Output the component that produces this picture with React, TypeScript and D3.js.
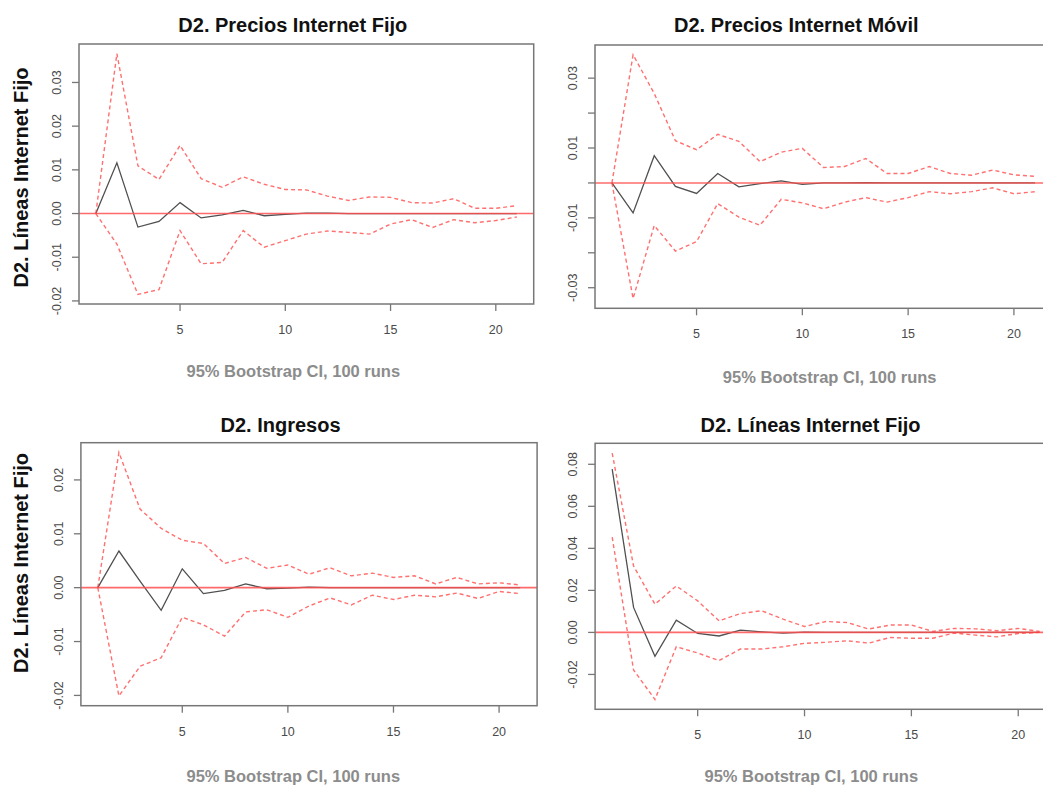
import React from "react";
import * as d3 from "d3";

// horizons 1..21
const steps = [1, 2, 3, 4, 5, 6, 7, 8, 9, 10, 11, 12, 13, 14, 15, 16, 17, 18, 19, 20, 21];

// D2. Precios Internet Fijo -> D2. Lineas Internet Fijo
const fijoIrf = [0, 0.0116, -0.0031, -0.0018, 0.0025, -0.001, -0.0003, 0.0007, -0.0005, -0.0002, 0.0001, 0.0001, 0, 0, 0, 0, 0, 0, 0, 0, 0];
const fijoUpper = [0, 0.0366, 0.0109, 0.0078, 0.0156, 0.008, 0.006, 0.0084, 0.0067, 0.0055, 0.0054, 0.004, 0.003, 0.0038, 0.0037, 0.0025, 0.0024, 0.0034, 0.0012, 0.0012, 0.0018];
const fijoLower = [0, -0.007, -0.0185, -0.0174, -0.0039, -0.0115, -0.0112, -0.0039, -0.0077, -0.0062, -0.0047, -0.004, -0.0043, -0.0047, -0.0024, -0.0014, -0.0032, -0.0014, -0.0021, -0.0016, -0.0008];

// D2. Precios Internet Movil
const movilIrf = [0, -0.0086, 0.0078, -0.001, -0.003, 0.0027, -0.0011, -0.0002, 0.0006, -0.0004, 0, 0, 0.0001, 0, 0, 0, 0, 0, 0, 0, 0];
const movilUpper = [0, 0.0367, 0.0256, 0.0121, 0.0095, 0.0139, 0.0119, 0.0061, 0.0088, 0.0099, 0.0044, 0.0047, 0.007, 0.0027, 0.0027, 0.0047, 0.0027, 0.0022, 0.0037, 0.0023, 0.0019];
const movilLower = [0, -0.0331, -0.0122, -0.0195, -0.0168, -0.0059, -0.0098, -0.0121, -0.0047, -0.0057, -0.0074, -0.0055, -0.0042, -0.0055, -0.0042, -0.0025, -0.0031, -0.0025, -0.0014, -0.0031, -0.0025];

// D2. Ingresos
const ingIrf = [0, 0.0068, 0.0012, -0.0042, 0.0035, -0.0011, -0.0005, 0.0007, -0.0002, -0.0001, 0.0001, 0, 0, 0, 0, 0, 0, 0, 0, 0, 0];
const ingUpper = [0, 0.0251, 0.0146, 0.011, 0.0088, 0.0082, 0.0045, 0.0056, 0.0036, 0.0042, 0.0025, 0.0037, 0.0022, 0.0027, 0.0019, 0.0022, 0.0007, 0.0019, 0.0007, 0.0009, 0.0005];
const ingLower = [0, -0.0201, -0.0146, -0.013, -0.0055, -0.0069, -0.009, -0.0045, -0.0041, -0.0055, -0.0034, -0.0019, -0.0032, -0.0014, -0.0022, -0.0014, -0.0017, -0.001, -0.002, -0.0007, -0.0011];

// D2. Lineas Internet Fijo (own shock)
const linIrf = [0.0777, 0.0119, -0.0114, 0.0058, -0.0005, -0.0017, 0.0011, 0.0003, -0.0003, 0.0001, 0, 0, 0, 0, 0, 0, 0, 0, 0, 0, 0];
const linUpper = [0.0853, 0.0316, 0.0134, 0.0221, 0.015, 0.0055, 0.009, 0.0103, 0.0063, 0.0028, 0.0052, 0.0047, 0.0016, 0.0035, 0.0035, 0.0005, 0.0019, 0.0017, 0.0008, 0.0019, 0.0005];
const linLower = [0.0453, -0.0179, -0.0319, -0.0068, -0.0098, -0.0134, -0.0079, -0.0079, -0.0068, -0.0052, -0.0047, -0.004, -0.0051, -0.0024, -0.0028, -0.0028, -0.0003, -0.0013, -0.0021, -0.0005, 0];

const xTicks = [5, 10, 15, 20];

const FONT = "'Liberation Sans', Arial, sans-serif";
const fmt = (v: number) => v.toFixed(2).replace("−", "-");

type PanelProps = {
  title: string;
  irf: number[];
  upper: number[];
  lower: number[];
  yTicks: number[];
  yLabels: number[];
  box: { l: number; t: number; r: number; b: number };
  titleX: number;
  titleY: number;
  subX: number;
  subY: number;
  yLabel?: { x: number; y: number };
};

function Panel(p: PanelProps) {
  const { box } = p;
  const x = d3.scaleLinear().domain([0.2, 21.8]).range([box.l, box.r]);
  const all = [...p.irf, ...p.upper, ...p.lower];
  const lo = d3.min(all) as number;
  const hi = d3.max(all) as number;
  const ext = (hi - lo) * 0.04;
  const y = d3.scaleLinear().domain([lo - ext, hi + ext]).range([box.b, box.t]);
  const line = d3
    .line<number>()
    .x((_, i) => x(steps[i]))
    .y((d) => y(d));
  const clipId = "clip" + Math.round(box.l) + "_" + Math.round(box.t);

  return (
    <g>
      <defs>
        <clipPath id={clipId}>
          <rect x={box.l} y={box.t} width={box.r - box.l} height={box.b - box.t} />
        </clipPath>
      </defs>
      <g clipPath={`url(#${clipId})`}>
        <path d={line(p.irf) || ""} fill="none" stroke="#505050" strokeWidth={1.3} />
        <line x1={box.l} x2={box.r} y1={y(0)} y2={y(0)} stroke="#ff5050" strokeOpacity={0.85} strokeWidth={1.6} />
        <path d={line(p.upper) || ""} fill="none" stroke="#ff4040" strokeOpacity={0.75} strokeWidth={1.4} strokeDasharray="4,3" />
        <path d={line(p.lower) || ""} fill="none" stroke="#ff4040" strokeOpacity={0.75} strokeWidth={1.4} strokeDasharray="4,3" />
      </g>
      <rect x={box.l} y={box.t} width={box.r - box.l} height={box.b - box.t} fill="none" stroke="#777" strokeWidth={1.5} />
      {p.yTicks.map((t) => (
        <g key={"y" + t}>
          <line x1={box.l - 7} x2={box.l} y1={y(t)} y2={y(t)} stroke="#777" strokeWidth={1.3} />
          {p.yLabels.includes(t) && (
            <text
              transform={`translate(${box.l - 18},${y(t)}) rotate(-90)`}
              textAnchor="middle"
              fontFamily={FONT}
              fontSize={12.5}
              fill="#4a4a4a"
            >
              {fmt(t)}
            </text>
          )}
        </g>
      ))}
      {xTicks.map((t) => (
        <g key={"x" + t}>
          <line x1={x(t)} x2={x(t)} y1={box.b} y2={box.b + 7} stroke="#777" strokeWidth={1.3} />
          <text x={x(t)} y={box.b + 30} textAnchor="middle" fontFamily={FONT} fontSize={12.5} fill="#4a4a4a">
            {t}
          </text>
        </g>
      ))}
      <text x={p.titleX} y={p.titleY} textAnchor="middle" fontFamily={FONT} fontSize={20} fontWeight="bold" fill="#111">
        {p.title}
      </text>
      <text x={p.subX} y={p.subY} textAnchor="middle" fontFamily={FONT} fontSize={16.5} fontWeight="bold" fill="#8c8c8c">
        95% Bootstrap CI, 100 runs
      </text>
      {p.yLabel && (
        <text
          transform={`translate(${p.yLabel.x},${p.yLabel.y}) rotate(-90)`}
          textAnchor="middle"
          fontFamily={FONT}
          fontSize={20}
          fontWeight="bold"
          fill="#111"
        >
          D2. Líneas Internet Fijo
        </text>
      )}
    </g>
  );
}

export default function App() {
  return (
    <svg width={1043} height={785} style={{ position: "absolute", left: 0, top: 0, background: "#fff" }}>
      <rect width={1043} height={785} fill="#fff" />
      <Panel
        title="D2. Precios Internet Fijo"
        irf={fijoIrf}
        upper={fijoUpper}
        lower={fijoLower}
        yTicks={[-0.02, -0.01, 0, 0.01, 0.02, 0.03]}
        yLabels={[-0.02, -0.01, 0, 0.01, 0.02, 0.03]}
        box={{ l: 79, t: 44, r: 533.7, b: 304 }}
        titleX={292.8}
        titleY={31.7}
        subX={293.3}
        subY={376.7}
        yLabel={{ x: 28, y: 177.5 }}
      />
      <Panel
        title="D2. Precios Internet Móvil"
        irf={movilIrf}
        upper={movilUpper}
        lower={movilLower}
        yTicks={[-0.03, -0.02, -0.01, 0, 0.01, 0.02, 0.03]}
        yLabels={[-0.03, -0.01, 0.01, 0.03]}
        box={{ l: 595, t: 45, r: 1052, b: 308.3 }}
        titleX={796.3}
        titleY={32}
        subX={829.7}
        subY={383}
      />
      <Panel
        title="D2. Ingresos"
        irf={ingIrf}
        upper={ingUpper}
        lower={ingLower}
        yTicks={[-0.02, -0.01, 0, 0.01, 0.02]}
        yLabels={[-0.02, -0.01, 0, 0.01, 0.02]}
        box={{ l: 80.9, t: 442.7, r: 537.1, b: 705.7 }}
        titleX={280.5}
        titleY={431.7}
        subX={293.3}
        subY={781.7}
        yLabel={{ x: 28, y: 563 }}
      />
      <Panel
        title="D2. Líneas Internet Fijo"
        irf={linIrf}
        upper={linUpper}
        lower={linLower}
        yTicks={[-0.02, 0, 0.02, 0.04, 0.06, 0.08]}
        yLabels={[-0.02, 0, 0.02, 0.04, 0.06, 0.08]}
        box={{ l: 595.1, t: 443.3, r: 1056.7, b: 709.3 }}
        titleX={810.5}
        titleY={431.7}
        subX={811.3}
        subY={781.7}
      />
    </svg>
  );
}
